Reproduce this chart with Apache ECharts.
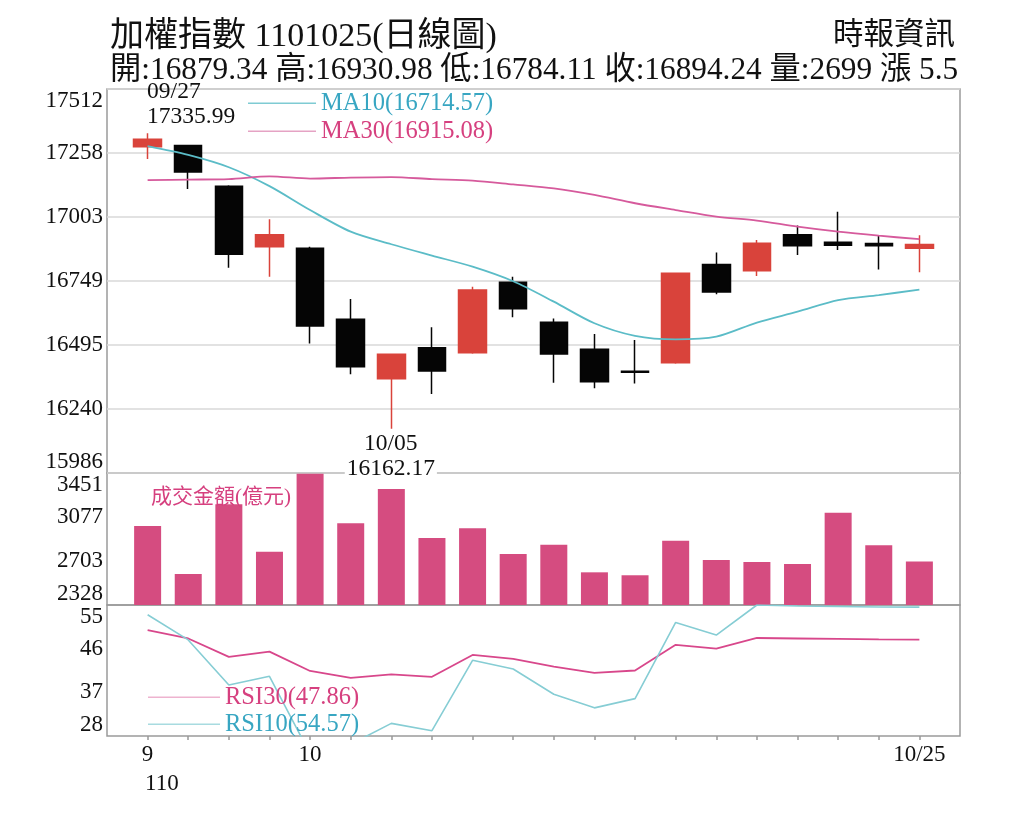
<!DOCTYPE html>
<html><head><meta charset="utf-8">
<script src="https://cdn.jsdelivr.net/npm/echarts@6/dist/echarts.min.js"></script>
<style>html,body{margin:0;padding:0;background:#fff}#c{width:1024px;height:820px}</style>
</head><body><div id="c"></div>
<script>
// ---- data ----
const dates = ['09/27','09/28','09/29','09/30','10/01','10/04','10/05','10/06','10/07','10/08',
               '10/12','10/13','10/14','10/15','10/18','10/19','10/20','10/21','10/22','10/25'];
const opens  = [17283,17287,17126,16885,16879,16597,16361,16484,16464,16744,
                16585,16478,16390,16424,16815,16790,16933,16903,16898,16879.34];
const highs  = [17335.99,17290,17130,16994,16885,16677,16460,16565,16726,16766,
                16600,16538,16515,16782,16862,16912,16970,17024,16932,16930.98];
const lows   = [17234,17115,16802,16766,16501,16378,16162.17,16300,16460,16605,
                16345,16323,16342,16420,16696,16769,16852,16872,16795,16784.11];
const closes = [17312,17182,16855,16933,16570,16408,16458,16391,16713,16639,
                16459,16349,16386,16780,16705,16899,16889,16891,16888.74,16894.24];
const ma10 = [17285,17250,17201,17126,17031,16945,16895,16850,16806,16748,
              16667,16581,16531,16517,16528,16584,16627,16673,16693,16714.57];
const ma30 = [17150,17152,17154,17165,17156,17160,17162,17154,17148,17133,
              17117,17091,17058,17031,17005,16989,16965,16945,16929,16915.08];
const volumes = [3000,2592,3185,2782,3445,3023,3315,2898,2980,2762,
                 2841,2606,2581,2875,2711,2694,2677,3113,2836,2699];
const rsi30 = [49.8,48.1,44.3,45.4,41.4,40.0,40.7,40.2,44.7,43.9,
               42.3,41.0,41.5,46.8,46.0,48.2,48.1,48.0,47.9,47.86];
const rsi10 = [53.0,47.8,38.5,40.3,24.3,26.3,30.6,29.1,43.6,41.8,
               36.6,33.8,35.7,51.4,48.8,55.0,54.8,54.7,54.6,54.57];
const priceTicks = [15986,16240,16495,16749,17003,17258,17512];
const volTicks = [2328,2703,3077,3451];
const rsiTicks = [28,37,46,55];
const tickDates = ['09/27','10/01','10/25'];
const tickTexts = ['9','10','10/25'];

// ---- build ----
const SERIF = "'Liberation Serif','Times New Roman','Noto Sans CJK TC',serif";
const CJK = "'Liberation Serif','Noto Sans CJK TC',serif";
const cats = [''].concat(dates, ['']);
const pad = a => ['-'].concat(a, ['-']);
const candleData = [['-','-','-','-']].concat(dates.map((d,i)=>[opens[i],closes[i],lows[i],highs[i]]), [['-','-','-','-']]);
const n = dates.length;
let iMax = 0, iMin = 0;
for (let i=0;i<n;i++){ if(highs[i]>highs[iMax]) iMax=i; if(lows[i]<lows[iMin]) iMin=i; }
const fmt2 = v => v.toFixed(2);
const last = n-1;
const change = +(closes[last]-closes[last-1]).toFixed(2);
const header2 = '開:' + fmt2(opens[last]) + ' 高:' + fmt2(highs[last]) + ' 低:' + fmt2(lows[last]) +
  ' 收:' + fmt2(closes[last]) + ' 量:' + volumes[last] + ' 漲 ' + change;

const G = {left:107, width:853};
const grids = [
  Object.assign({top:89, height:384}, G),
  Object.assign({top:473, height:132}, G),
  Object.assign({top:605, height:131}, G)
].map(g => Object.assign(g, {show:true, borderColor:'#9a9a9a', borderWidth:1.5, containLabel:false}));

function xAx(idx, showLabels){
  return {
    type:'category', gridIndex:idx, data:cats, boundaryGap:false,
    axisLine:{show:false},
    axisTick:{show:showLabels, length:4, lineStyle:{color:'#999', width:1.5},
      interval:(i)=> i>0 && i<cats.length-1},
    axisLabel:{show:showLabels, margin:7, fontSize:23, fontFamily:SERIF, color:'#111',
      interval:(i,v)=> tickDates.indexOf(v)>=0,
      formatter:(v)=> { const k = tickDates.indexOf(v); return k>=0 ? tickTexts[k] : ''; }},
    splitLine:{show:false}
  };
}
function yAx(idx, min, max, ticks, split){
  return {
    type:'value', gridIndex:idx, min:min, max:max, scale:true,
    axisLine:{show:false},
    axisTick:{show:false, customValues:ticks},
    axisLabel:{customValues:ticks, fontSize:23, fontFamily:SERIF, color:'#111', margin:4,
      formatter:(v)=> String(Math.round(v)),
      verticalAlignMinLabel:'bottom', verticalAlignMaxLabel:'top'},
    splitLine:{show:split, lineStyle:{color:'#d9d9d9', width:1.5}}
  };
}

const option = {
  animation:false,
  backgroundColor:'#fff',
  title:[
    {text:'加權指數 1101025(日線圖)', left:105, top:15, textStyle:{fontSize:34, fontWeight:'normal', fontFamily:CJK, color:'#111'}},
    {text:header2, left:105, top:50, textStyle:{fontSize:31.3, fontWeight:'normal', fontFamily:CJK, color:'#111'}},
    {text:'時報資訊', right:64, top:16, textStyle:{fontSize:30.5, fontWeight:'normal', fontFamily:CJK, color:'#111'}},
    {text:'成交金額(億元)', left:146, top:482, textStyle:{fontSize:21, fontWeight:'normal', fontFamily:CJK, color:'#d6407f'}},
    {text:'110', left:140, top:767, textStyle:{fontSize:23, fontWeight:'normal', fontFamily:SERIF, color:'#111'}}
  ],
  legend:[
    {data:['MA10'], left:248, top:91, padding:0, itemWidth:68, itemHeight:1.5, icon:'rect', selectedMode:false,
      formatter:(nm)=> nm+'('+fmt2(ma10[last])+')', textStyle:{fontSize:24.5, fontFamily:SERIF, color:'#38a6c2'}},
    {data:['MA30'], left:248, top:119, padding:0, itemWidth:68, itemHeight:1.5, icon:'rect', selectedMode:false,
      formatter:(nm)=> nm+'('+fmt2(ma30[last])+')', textStyle:{fontSize:24.5, fontFamily:SERIF, color:'#d6407f'}},
    {data:['RSI30'], left:148, top:685, padding:0, itemWidth:72, itemHeight:1.5, icon:'rect', selectedMode:false,
      formatter:(nm)=> nm+'('+fmt2(rsi30[last])+')', textStyle:{fontSize:24.5, fontFamily:SERIF, color:'#d6407f'}},
    {data:['RSI10'], left:148, top:712, padding:0, itemWidth:72, itemHeight:1.5, icon:'rect', selectedMode:false,
      formatter:(nm)=> nm+'('+fmt2(rsi10[last])+')', textStyle:{fontSize:24.5, fontFamily:SERIF, color:'#38a6c2'}}
  ],
  grid:grids,
  xAxis:[xAx(0,false), xAx(1,false), xAx(2,true)],
  yAxis:[
    yAx(0, priceTicks[0], priceTicks[priceTicks.length-1], priceTicks, true),
    yAx(1, volTicks[0], volTicks[volTicks.length-1], volTicks, false),
    yAx(2, rsiTicks[0], rsiTicks[rsiTicks.length-1], rsiTicks, false)
  ],
  series:[
    {type:'candlestick', name:'K', xAxisIndex:0, yAxisIndex:0, data:candleData, barWidth:28, z:3,
      itemStyle:{color:'#d9433b', color0:'#050505', borderColor:'#d9433b', borderColor0:'#050505', borderWidth:1.5},
      markPoint:{
        symbol:'circle', symbolSize:1, itemStyle:{color:'rgba(0,0,0,0)'},
        data:[
          {coord:[dates[iMax], highs[iMax]], label:{show:true, position:[0,-3], align:'left', verticalAlign:'bottom',
             formatter:dates[iMax]+'\n'+fmt2(highs[iMax]), fontSize:23.5, lineHeight:25, fontFamily:SERIF, color:'#111'}},
          {coord:[dates[iMin], lows[iMin]], label:{show:true, position:[0,3], align:'center', verticalAlign:'top',
             formatter:dates[iMin]+'\n'+fmt2(lows[iMin]), fontSize:23.5, lineHeight:25, fontFamily:SERIF, color:'#111',
             backgroundColor:'#fff', padding:[0,2,0,2]}}
        ]
      }},
    {type:'line', name:'MA10', xAxisIndex:0, yAxisIndex:0, data:pad(ma10), symbol:'none', smooth:0.3, z:4,
      lineStyle:{color:'#5bbcc7', width:1.8}, itemStyle:{color:'#7fcbd3'}},
    {type:'line', name:'MA30', xAxisIndex:0, yAxisIndex:0, data:pad(ma30), symbol:'none', smooth:0.3, z:4,
      lineStyle:{color:'#d65a9c', width:1.8}, itemStyle:{color:'#e5a3c4'}},
    {type:'bar', name:'VOL', xAxisIndex:1, yAxisIndex:1, data:pad(volumes), barWidth:27,
      itemStyle:{color:'#d54c80'}},
    {type:'line', name:'RSI30', xAxisIndex:2, yAxisIndex:2, data:pad(rsi30), symbol:'none',
      lineStyle:{color:'#d8478b', width:1.8}, itemStyle:{color:'#eeb3cf'}},
    {type:'line', name:'RSI10', xAxisIndex:2, yAxisIndex:2, data:pad(rsi10), symbol:'none',
      lineStyle:{color:'#86cdd4', width:1.6}, itemStyle:{color:'#a8dbe0'}}
  ]
};
const chart = echarts.init(document.getElementById('c'), null, {renderer:'canvas'});
chart.setOption(option);
</script>
</body></html>
